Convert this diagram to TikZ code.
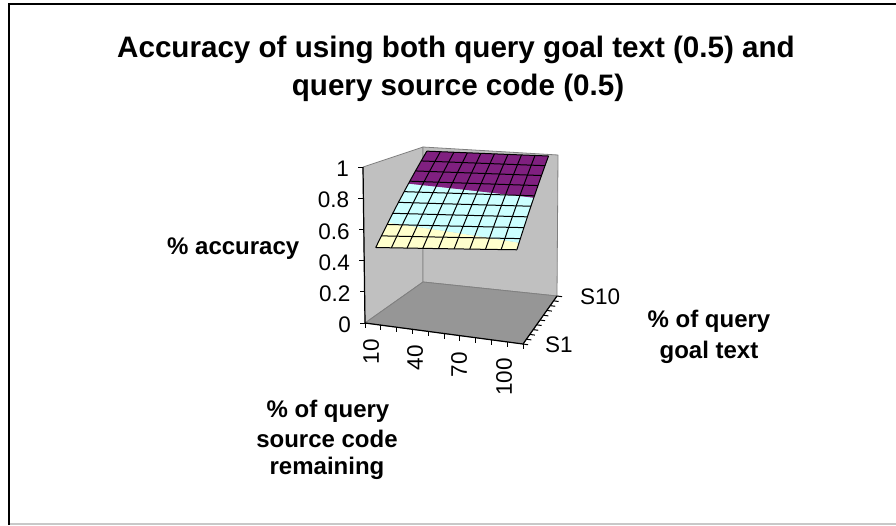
\documentclass[tikz,border=0pt]{standalone}
\usepackage{fontspec}
\setmainfont{Liberation Sans}
\definecolor{wallgray}{RGB}{192,192,192}
\definecolor{floorgray}{RGB}{150,150,150}
\definecolor{edgegray}{RGB}{128,128,128}
\definecolor{bandY}{RGB}{255,255,204}
\definecolor{bandC}{RGB}{204,255,255}
\definecolor{bandP}{RGB}{128,32,128}
\definecolor{framegray}{RGB}{200,200,200}
\tikzset{
  declare function={
    FX(\pp,\qq)=(1-\pp)*(1-\qq)*365+\pp*(1-\qq)*523+(1-\pp)*\qq*423+\pp*\qq*557;
    FY(\pp,\qq)=(1-\pp)*(1-\qq)*323+\pp*(1-\qq)*344+(1-\pp)*\qq*282+\pp*\qq*296;
    HS(\pp,\qq)=(1-\pp)*(1-\qq)*156+\pp*(1-\qq)*160.5+(1-\pp)*\qq*135+\pp*\qq*141;
    ZV(\pp,\qq)=min(1,0.48+0.09*\pp+(0.5-0.07*\pp)*\qq);
    SX(\pp,\qq)=FX(0.05+0.9*\pp,0.05+0.9*\qq);
    SY(\pp,\qq)=FY(0.05+0.9*\pp,0.05+0.9*\qq)-ZV(\pp,\qq)*HS(0.05+0.9*\pp,0.05+0.9*\qq);
    TL(\pp,\lv)=(\lv-0.48-0.09*\pp)/(0.5-0.07*\pp);
  },
  wall/.style={fill=wallgray,draw=edgegray,line width=0.8pt,line join=round},
  floorface/.style={fill=floorgray,draw=edgegray,line width=0.8pt,line join=round},
  axisline/.style={draw=black,line width=1.2pt},
  tickmark/.style={draw=black,line width=1pt},
  mesh/.style={draw=black,line width=1pt,line join=round},
  ticklabel/.style={inner sep=0pt,font=\fontsize{22.5}{27}\selectfont},
  axtitle/.style={inner sep=0pt,font=\fontsize{24}{30}\selectfont\bfseries},
  charttitle/.style={inner sep=0pt,font=\fontsize{29.6}{38}\selectfont\bfseries},
}
\begin{document}
\begin{tikzpicture}[x=1pt,y=-1pt]
\useasboundingbox (0,0) rectangle (896,525);
\fill[white] (0,0) rectangle (896,525);
% frame
\draw[line width=2pt] (9,525) -- (9,4) -- (896,4);
\draw[framegray,line width=1.2pt] (10,524) -- (896,524);

% title
\node[charttitle,anchor=base] (t1) at (456,57) {Accuracy of using both query goal text (0.5) and};
\node[charttitle,anchor=base] (t2) at (458,95) {query source code (0.5)};

% box corners
\coordinate (FL) at (365,323);
\coordinate (FR) at (523,344);
\coordinate (BL) at (423,282);
\coordinate (BR) at (557,296);
\coordinate (FLt) at (363,167);
\coordinate (BLt) at (423,147);
\coordinate (BRt) at (558,155);

% walls and floor
\path[wall] (FL) -- (BL) -- (BLt) -- (FLt) -- cycle;
\path[wall] (BL) -- (BR) -- (BRt) -- (BLt) -- cycle;
\path[floorface] (FL) -- (FR) -- (BR) -- (BL) -- cycle;

% axes
\draw[axisline] (FL) -- (FLt);
\draw[axisline] (FL) -- (FR) -- (BR);
\foreach \k in {0,...,5}
  \draw[tickmark] ({365-2*\k/5},{323-156*\k/5}) -- ++(-5,0);
\foreach \k in {0,...,10}
  \draw[tickmark] ({FX(\k/10,0)},{FY(\k/10,0)}) -- ++(0,5);
\foreach \k in {0,...,10}
  \draw[tickmark] ({FX(1,\k/10)},{FY(1,\k/10)}) -- ++(5,0.7);

% value labels
\foreach \k/\t in {0/0,1/0.2,2/0.4,3/0.6,4/0.8,5/1}
  \node[ticklabel,anchor=east] (zl\k) at ({351-2*\k/5},{325-156*\k/5}) {\t};
% category labels
\node[ticklabel,rotate=90,anchor=east] (xl10) at (371,339) {10};
\node[ticklabel,rotate=90,anchor=east] (xl40) at (415,345) {40};
\node[ticklabel,rotate=90,anchor=east] (xl70) at (459,352) {70};
\node[ticklabel,rotate=90,anchor=east] (xl100) at (504,358) {100};
% series labels
\node[ticklabel,anchor=west] (s10) at (580,296.5) {S10};
\node[ticklabel,anchor=west] (s1) at (545,345) {S1};

% axis titles
\node[axtitle,anchor=base west] (za) at (167,254) {\% accuracy};
\node[axtitle,anchor=base] (xa1) at (328,417) {\% of query};
\node[axtitle,anchor=base] (xa2) at (327,447) {source code};
\node[axtitle,anchor=base] (xa3) at (327,474) {remaining};
\node[axtitle,anchor=base] (ya1) at (709,327) {\% of query};
\node[axtitle,anchor=base] (ya2) at (709,358) {goal text};

% surface bands
\fill[bandY] plot[domain=0:1,samples=19] ({SX(\x,0)},{SY(\x,0)})
  -- plot[domain=1:0,samples=19] ({SX(\x,TL(\x,0.6))},{SY(\x,TL(\x,0.6))}) -- cycle;
\fill[bandC] plot[domain=0:1,samples=19] ({SX(\x,TL(\x,0.6))},{SY(\x,TL(\x,0.6))})
  -- plot[domain=1:0,samples=19] ({SX(\x,TL(\x,0.8))},{SY(\x,TL(\x,0.8))}) -- cycle;
\fill[bandP] plot[domain=0:1,samples=19] ({SX(\x,TL(\x,0.8))},{SY(\x,TL(\x,0.8))})
  -- plot[domain=1:0,samples=19] ({SX(\x,1)},{SY(\x,1)}) -- cycle;

% surface mesh
\foreach \i in {0,...,9}
  \draw[mesh] plot[domain=0:1,samples=10] ({SX(\i/9,\x)},{SY(\i/9,\x)});
\foreach \j in {0,...,9}
  \draw[mesh] plot[domain=0:1,samples=10] ({SX(\x,\j/9)},{SY(\x,\j/9)});
\end{tikzpicture}
\end{document}
